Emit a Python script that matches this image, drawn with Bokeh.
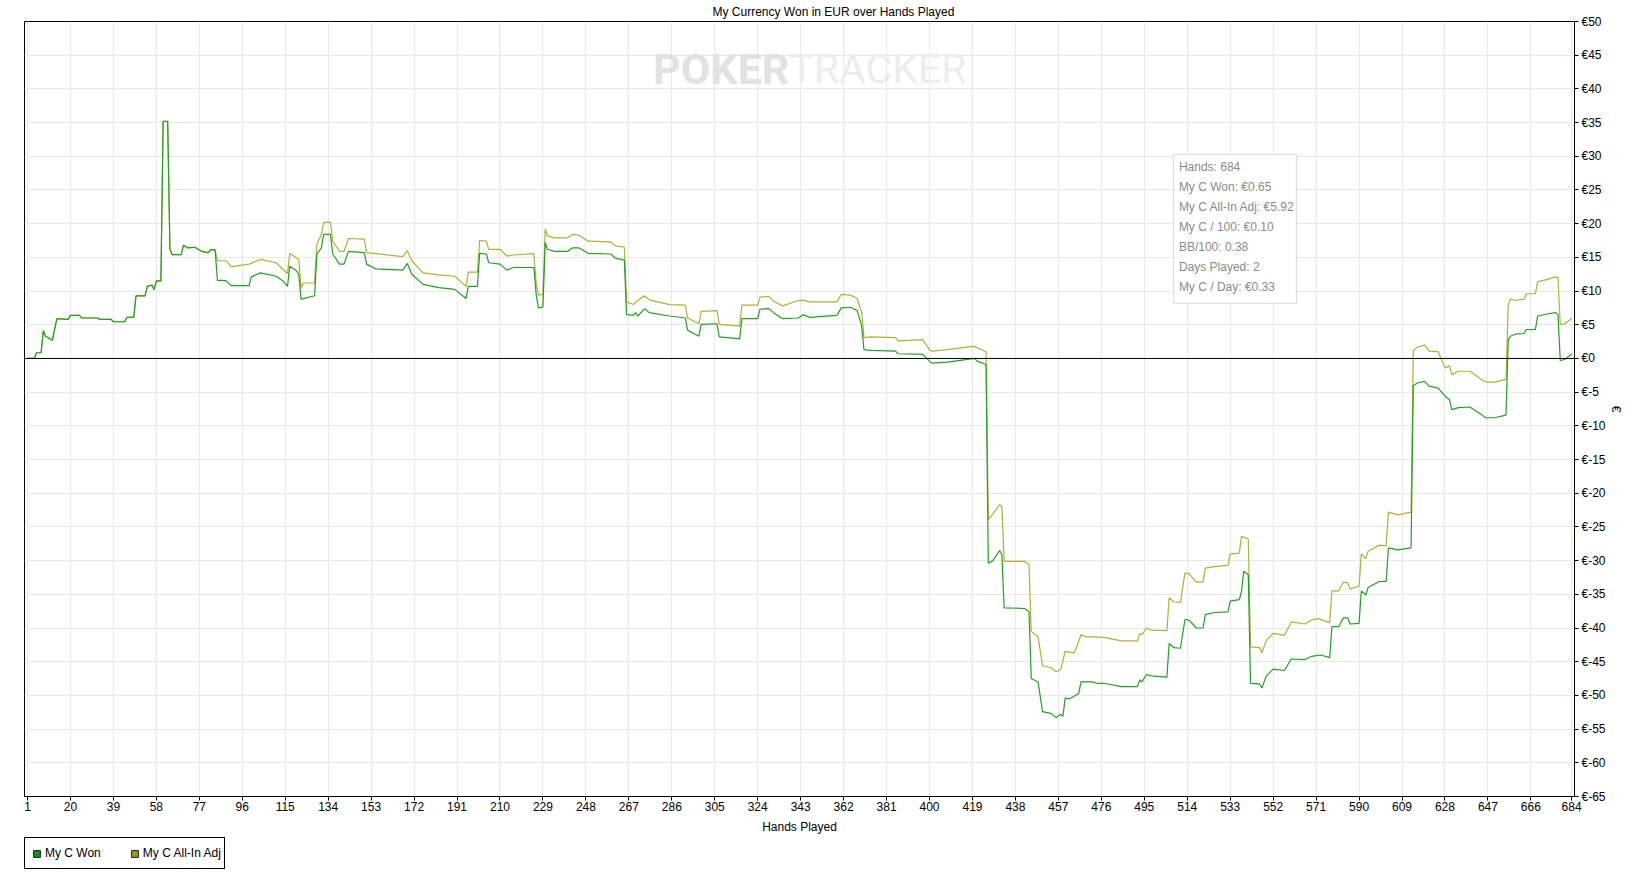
from bokeh.plotting import figure
from bokeh.layouts import column
from bokeh.models import (Range1d, FixedTicker, PrintfTickFormatter, Span, Legend,
                          LegendItem, Label, BoxAnnotation)
from bokeh.embed import file_html
from bokeh.resources import INLINE

TITLE = "My Currency Won in EUR over Hands Played"
X_LABEL = "Hands Played"
Y_LABEL = "€"
SERIES = ["My C Won", "My C All-In Adj"]
WATERMARK = ["POKER", "TRACKER"]

x_ticks = [1, 20, 39, 58, 77, 96, 115, 134, 153, 172, 191, 210, 229, 248, 267, 286,
           305, 324, 343, 362, 381, 400, 419, 438, 457, 476, 495, 514, 533, 552, 571,
           590, 609, 628, 647, 666, 684]
y_ticks = list(range(-65, 51, 5))

# cumulative winnings (EUR) read at breakpoints of hands played
won_hands = [1, 4, 5, 7, 8, 9, 12, 14, 19, 20, 24, 25, 32, 33, 38, 39, 44, 45, 48, 49,
             53, 54, 56, 57, 58, 60, 61, 63, 64, 65, 69, 70, 72, 75, 78, 81, 82, 84, 85, 87,
             89, 91, 99, 100, 104, 111, 114, 116, 117, 120, 121, 122, 128, 129, 131, 132, 135, 136, 139, 141,
             143, 150, 151, 155, 167, 169, 171, 176, 183, 190, 195, 196, 200, 201, 204, 205, 210, 213, 216, 225,
             226, 227, 229, 230, 231, 234, 240, 242, 245, 249, 259, 261, 265, 266, 269, 270, 271, 274, 276, 285,
             292, 293, 298, 299, 306, 307, 316, 317, 324, 325, 329, 331, 335, 342, 344, 347, 359, 361, 365, 368,
             370, 371, 374, 385, 386, 397, 400, 401, 408, 420, 421, 425, 426, 428, 431, 432, 433, 442, 444, 445,
             448, 450, 454, 456, 458, 459, 460, 462, 465, 466, 467, 472, 474, 477, 485, 492, 493, 494, 496, 498,
             505, 506, 508, 511, 513, 515, 518, 521, 522, 526, 532, 533, 537, 538, 539, 541, 542, 546, 547, 549,
             552, 557, 560, 566, 569, 573, 577, 578, 581, 583, 585, 586, 590, 591, 593, 594, 599, 602, 603, 607,
             613, 614, 616, 619, 621, 625, 628, 630, 631, 634, 639, 644, 646, 650, 655, 656, 657, 659, 663, 664,
             668, 669, 673, 677, 678, 679, 681, 684]
won_values = [0, 0, 0.85, 0.85, 4.1, 3.3, 2.7, 5.9, 5.8, 6.4, 6.4, 6.0, 6.0, 5.8, 5.8, 5.45, 5.45, 6.1, 6.1, 9.3,
              9.3, 10.7, 10.9, 10.2, 11.5, 11.5, 35.2, 35.2, 16.2, 15.4, 15.4, 16.8, 16.4, 16.5, 15.9, 15.7, 16.1, 16.1, 11.6, 11.6,
              11.5, 10.8, 10.8, 12.1, 12.7, 12.2, 11.5, 10.7, 13.7, 13.0, 12.5, 8.8, 9.3, 15.5, 16.4, 18.4, 18.4, 15.5, 14.0, 14.0,
              15.9, 15.7, 14.0, 13.3, 13.1, 14.1, 12.5, 11.0, 10.5, 10.25, 8.9, 10.7, 10.7, 15.6, 15.5, 14.2, 14.0, 13.1, 13.5, 13.5,
              9.5, 7.5, 7.6, 17.2, 16.2, 15.9, 15.9, 16.4, 16.4, 15.6, 15.5, 14.9, 14.6, 6.5, 6.4, 6.8, 6.3, 7.4, 6.8, 6.3,
              6.0, 4.2, 3.3, 5.05, 5.15, 3.2, 2.9, 5.9, 5.9, 7.3, 7.4, 6.8, 5.9, 6.0, 6.5, 6.1, 6.4, 7.5, 7.6, 7.1,
              4.8, 1.3, 1.2, 1.1, 0.7, 0.6, -0.4, -0.7, -0.55, 0.0, -0.4, -0.9, -30.4, -30.0, -28.5, -29.1, -37.0, -37.1, -37.6, -47.5,
              -48.0, -52.4, -52.7, -53.3, -52.8, -53.1, -50.4, -50.5, -49.9, -49.7, -48.0, -48.0, -48.2, -48.2, -48.7, -48.7, -47.7, -48.0, -46.9, -47.1,
              -47.3, -42.3, -42.9, -43.0, -38.7, -38.9, -40.0, -40.0, -38.0, -37.7, -37.6, -36.0, -35.8, -34.6, -31.6, -32.1, -48.2, -48.3, -48.9, -47.1,
              -46.1, -46.3, -44.6, -44.7, -44.2, -44.0, -44.4, -39.8, -39.8, -38.5, -38.5, -39.4, -39.3, -34.5, -35.1, -34.0, -33.1, -33.1, -28.1, -28.4,
              -28.1, -4.0, -3.6, -3.4, -4.1, -4.4, -5.6, -6.1, -7.6, -7.3, -7.2, -8.3, -8.8, -8.8, -8.4, 2.8, 3.3, 3.6, 3.7, 4.3,
              4.3, 6.3, 6.6, 6.8, 6.5, -0.3, -0.15, 0.65]

# all-in adjusted winnings (EUR)
adj_hands = [1, 4, 5, 7, 8, 9, 12, 14, 19, 20, 24, 25, 32, 33, 38, 39, 44, 45, 48, 49,
             53, 54, 56, 57, 58, 60, 61, 63, 64, 65, 69, 70, 72, 75, 78, 81, 82, 84, 85, 89,
             91, 99, 104, 111, 116, 117, 121, 122, 123, 128, 129, 131, 132, 135, 136, 139, 141, 143, 150, 151,
             167, 169, 171, 176, 183, 190, 195, 196, 200, 201, 204, 205, 210, 213, 216, 225, 226, 227, 229, 230,
             231, 234, 240, 242, 245, 249, 259, 261, 265, 266, 269, 271, 274, 276, 285, 292, 293, 298, 299, 306,
             307, 316, 317, 324, 325, 329, 331, 335, 342, 344, 347, 359, 361, 365, 368, 370, 371, 374, 385, 386,
             397, 400, 401, 408, 419, 421, 425, 426, 428, 431, 432, 433, 442, 444, 445, 448, 450, 454, 456, 458,
             460, 464, 465, 467, 469, 473, 477, 485, 492, 493, 494, 496, 498, 505, 506, 508, 511, 513, 515, 518,
             521, 522, 526, 532, 533, 537, 538, 541, 542, 546, 547, 549, 552, 557, 560, 566, 569, 572, 577, 578,
             581, 583, 585, 586, 590, 591, 593, 594, 599, 602, 603, 607, 613, 614, 616, 619, 621, 625, 628, 630,
             631, 634, 639, 644, 646, 650, 655, 656, 657, 659, 663, 664, 668, 669, 673, 677, 678, 679, 681, 684]
adj_values = [0, 0, 0.85, 0.85, 4.1, 3.3, 2.7, 5.9, 5.8, 6.4, 6.4, 6.0, 6.0, 5.8, 5.8, 5.45, 5.45, 6.1, 6.1, 9.3,
              9.3, 10.7, 10.9, 10.2, 11.5, 11.5, 35.2, 35.2, 16.2, 15.4, 15.4, 16.8, 16.4, 16.5, 15.9, 15.7, 16.1, 16.1, 14.5, 14.5,
              13.6, 14.0, 14.7, 14.2, 12.6, 15.6, 14.7, 10.5, 11.2, 11.2, 17.0, 18.4, 20.2, 20.2, 17.4, 15.9, 15.9, 17.8, 17.7, 15.7,
              15.1, 16.0, 14.5, 12.7, 12.4, 12.2, 10.7, 12.8, 12.8, 17.5, 17.4, 16.2, 16.2, 15.2, 15.35, 15.55, 11.2, 9.4, 9.5, 19.2,
              18.2, 17.9, 17.9, 18.4, 18.3, 17.4, 17.3, 16.7, 16.5, 8.4, 8.0, 8.6, 9.3, 8.7, 8.0, 7.9, 6.0, 5.15, 7.0, 7.1,
              5.05, 4.8, 7.9, 7.9, 9.1, 9.2, 8.5, 7.8, 8.6, 8.65, 8.4, 8.4, 9.5, 9.4, 8.9, 6.8, 3.1, 3.2, 3.1, 2.6,
              2.8, 1.3, 1.1, 1.3, 1.8, 1.6, 1.0, -23.9, -23.1, -21.7, -22.0, -30.1, -30.1, -30.6, -40.5, -41.3, -45.6, -45.9, -46.5, -46.2,
              -43.5, -43.7, -42.9, -41.0, -41.3, -41.3, -41.4, -41.9, -41.9, -40.8, -41.0, -40.0, -40.3, -40.4, -35.5, -36.1, -36.2, -31.8, -32.0, -33.2,
              -33.2, -31.1, -30.9, -30.7, -29.0, -28.9, -26.4, -26.8, -42.8, -42.9, -43.7, -41.8, -40.8, -41.1, -39.1, -39.4, -38.8, -38.6, -39.2, -34.5,
              -34.5, -33.2, -33.3, -34.2, -33.8, -29.0, -29.7, -28.6, -27.7, -27.8, -22.8, -23.2, -22.8, 1.2, 1.7, 2.0, 1.1, 1.0, -1.4, -1.1,
              -2.4, -1.9, -1.9, -3.1, -3.5, -3.5, -3.1, 8.0, 8.8, 8.6, 8.8, 9.6, 9.6, 11.4, 11.7, 12.1, 12.0, 5.05, 5.15, 5.92]

days_played = 2
bb_per_100 = 0.38

GREEN = "#22a022"
OLIVE = "#b0b036"
GREEN_SQ = "#129412"
OLIVE_SQ = "#9c9c1a"
FONT = "Liberation Sans"
WM_FONT = "Roboto"

p = figure(frame_width=1550, frame_height=775,
           x_range=Range1d(-0.33, 685.3), y_range=Range1d(-65, 50),
           y_axis_location="right", title=TITLE,
           output_backend="svg", toolbar_location=None,
           min_border_left=24, min_border_top=20, min_border_right=10, min_border_bottom=41)
p.background_fill_color = "white"
p.border_fill_color = "white"
p.outline_line_color = "black"
p.outline_line_width = 1

p.title.align = "left"
p.title.offset = 688
p.title.standoff = 5
p.title.text_font = FONT
p.title.text_font_size = "12px"
p.title.text_font_style = "normal"
p.title.text_color = "black"

for ax in (p.xaxis, p.yaxis):
    ax.axis_line_color = "black"
    ax.major_tick_line_color = "black"
    ax.major_tick_in = 0
    ax.major_tick_out = 4
    ax.minor_tick_line_color = None
    ax.major_label_text_font = FONT
    ax.major_label_text_font_size = "12px"
    ax.major_label_text_color = "black"
    ax.axis_label_text_font = FONT
    ax.axis_label_text_font_size = "12px"
    ax.axis_label_text_font_style = "normal"
    ax.axis_label_text_color = "black"

p.xaxis.ticker = FixedTicker(ticks=x_ticks)
p.xaxis.axis_label = X_LABEL
p.xaxis.major_label_standoff = 1
p.xaxis.axis_label_standoff = 6
p.yaxis.ticker = FixedTicker(ticks=y_ticks)
p.yaxis.formatter = PrintfTickFormatter(format="€%d")
p.yaxis.axis_label = Y_LABEL
p.yaxis.major_label_standoff = 3
p.yaxis.axis_label_standoff = 0

p.grid.grid_line_color = "#e9e9e9"
p.grid.grid_line_width = 1

# watermark
wm_x, wm_y = 338, 43.0
p.add_layout(Label(x=wm_x, y=wm_y, text=WATERMARK[0], text_align="right", text_baseline="middle",
                   text_font=WM_FONT, text_font_style="bold",
                   text_font_size="43px", text_color="#e2e2e2", level="underlay"))
p.add_layout(Label(x=wm_x, y=wm_y, text=WATERMARK[1], text_align="left", text_baseline="middle",
                   text_font=WM_FONT,
                   text_font_size="41px", text_color="#ededed", level="underlay"))

p.line(adj_hands, adj_values, line_color=OLIVE, line_width=1.2)
p.line(won_hands, won_values, line_color=GREEN, line_width=1.2)

p.add_layout(Span(location=0, dimension="width", line_color="black", line_width=1))

# hover-style info box
n_hands = won_hands[-1]
info_lines = [
    f"Hands: {n_hands}",
    f"{SERIES[0]}: €{won_values[-1]:.2f}",
    f"{SERIES[1]}: €{adj_values[-1]:.2f}",
    f"My C / 100: €{won_values[-1] / n_hands * 100:.2f}",
    f"BB/100: {bb_per_100:.2f}",
    f"Days Played: {days_played}",
    f"My C / Day: €{won_values[-1] / days_played:.2f}",
]
p.add_layout(BoxAnnotation(left=508.0, right=562.3, top=30.3, bottom=8.17,
                           fill_color="white", fill_alpha=1.0, line_color="#8a8a8a",
                           line_width=1, level="overlay"))
for i, t in enumerate(info_lines):
    p.add_layout(Label(x=510.3, y=28.47 - i * 2.972, text=t, text_align="left", text_baseline="middle",
                       text_font=FONT, text_font_size="12px", text_color="#8a8a8a", level="overlay"))

# legend strip under the chart (placeholder markers sit outside its visible range)
lg = figure(width=280, height=40, x_axis_type=None, y_axis_type=None, title=None,
            x_range=Range1d(0, 1), y_range=Range1d(0, 1),
            output_backend="svg", toolbar_location=None,
            min_border_left=24, min_border_top=0, min_border_right=0, min_border_bottom=0)
lg.outline_line_color = None
lg.background_fill_color = "white"
lg.border_fill_color = "white"
sq_won = lg.scatter(x=[-5], y=[-5], marker="square", size=7, fill_color=GREEN_SQ, line_color="#1a1a1a")
sq_adj = lg.scatter(x=[-5], y=[-5], marker="square", size=7, fill_color=OLIVE_SQ, line_color="#1a1a1a")
legend = Legend(items=[LegendItem(label=SERIES[0], renderers=[sq_won]),
                       LegendItem(label=SERIES[1], renderers=[sq_adj])],
                orientation="horizontal", location="top_left",
                margin=0, padding=3, spacing=25,
                glyph_width=17, glyph_height=17, label_standoff=0, label_height=24,
                label_text_font=FONT, label_text_font_size="12px", label_text_color="black",
                border_line_color="black", border_line_width=1, border_line_alpha=1.0,
                background_fill_color="white", background_fill_alpha=1.0)
lg.add_layout(legend)

open("out.html", "w").write(file_html(column(p, lg, spacing=0), INLINE))
